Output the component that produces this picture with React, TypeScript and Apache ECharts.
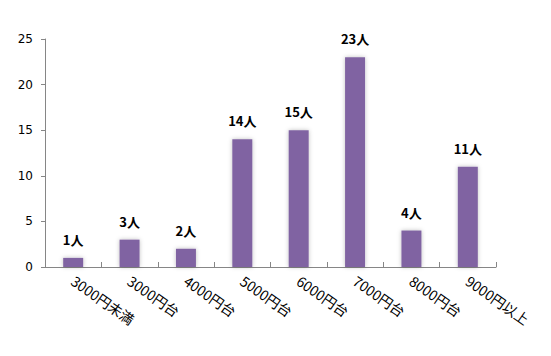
import React, { useEffect, useRef } from "react";
import * as echarts from "echarts";

const categories = ["3000円未満", "3000円台", "4000円台", "5000円台", "6000円台", "7000円台", "8000円台", "9000円以上"];
const counts = [1, 3, 2, 14, 15, 23, 4, 11];
const yTicks = [0, 5, 10, 15, 20, 25];

export default function App() {
  const ref = useRef<HTMLDivElement>(null);
  useEffect(() => {
    const chart = echarts.init(ref.current!, undefined, { renderer: "svg" });
    chart.setOption({
      animation: false,
      backgroundColor: "#ffffff",
      grid: { left: 45, right: 55, top: 39, bottom: 89, containLabel: false },
      xAxis: {
        type: "category",
        data: categories,
        axisLine: { lineStyle: { color: "#868686", width: 1 } },
        axisTick: { show: true, inside: true, length: 5, alignWithLabel: false, lineStyle: { color: "#868686" } },
        axisLabel: {
          rotate: -35,
          margin: 12,
          color: "#000",
          fontSize: 14,
          fontFamily: "'Noto Sans CJK JP', 'DejaVu Sans', sans-serif",
        },
      },
      yAxis: {
        type: "value",
        min: yTicks[0],
        max: yTicks[yTicks.length - 1],
        interval: 5,
        splitLine: { show: false },
        axisLine: { show: true, lineStyle: { color: "#868686", width: 1 } },
        axisTick: { show: true, length: 4, lineStyle: { color: "#868686" } },
        axisLabel: {
          color: "#000",
          fontSize: 12,
          margin: 12,
          fontFamily: "'DejaVu Sans', sans-serif",
        },
      },
      series: [
        {
          type: "bar",
          data: counts,
          barWidth: 20,
          itemStyle: {
            color: "#8064A2",
            shadowColor: "rgba(0,0,0,0.25)",
            shadowBlur: 4,
            shadowOffsetX: 0,
            shadowOffsetY: 0,
          },
          label: {
            show: true,
            position: "top",
            distance: 12,
            formatter: (p: any) => p.value + "人",
            color: "#000",
            fontWeight: "bold",
            fontSize: 13,
            fontFamily: "'Noto Sans CJK JP', 'DejaVu Sans', sans-serif",
          },
        },
      ],
    });
    return () => chart.dispose();
  }, []);
  return <div ref={ref} style={{ width: 551, height: 356, position: "absolute", left: 0, top: 0 }} />;
}
